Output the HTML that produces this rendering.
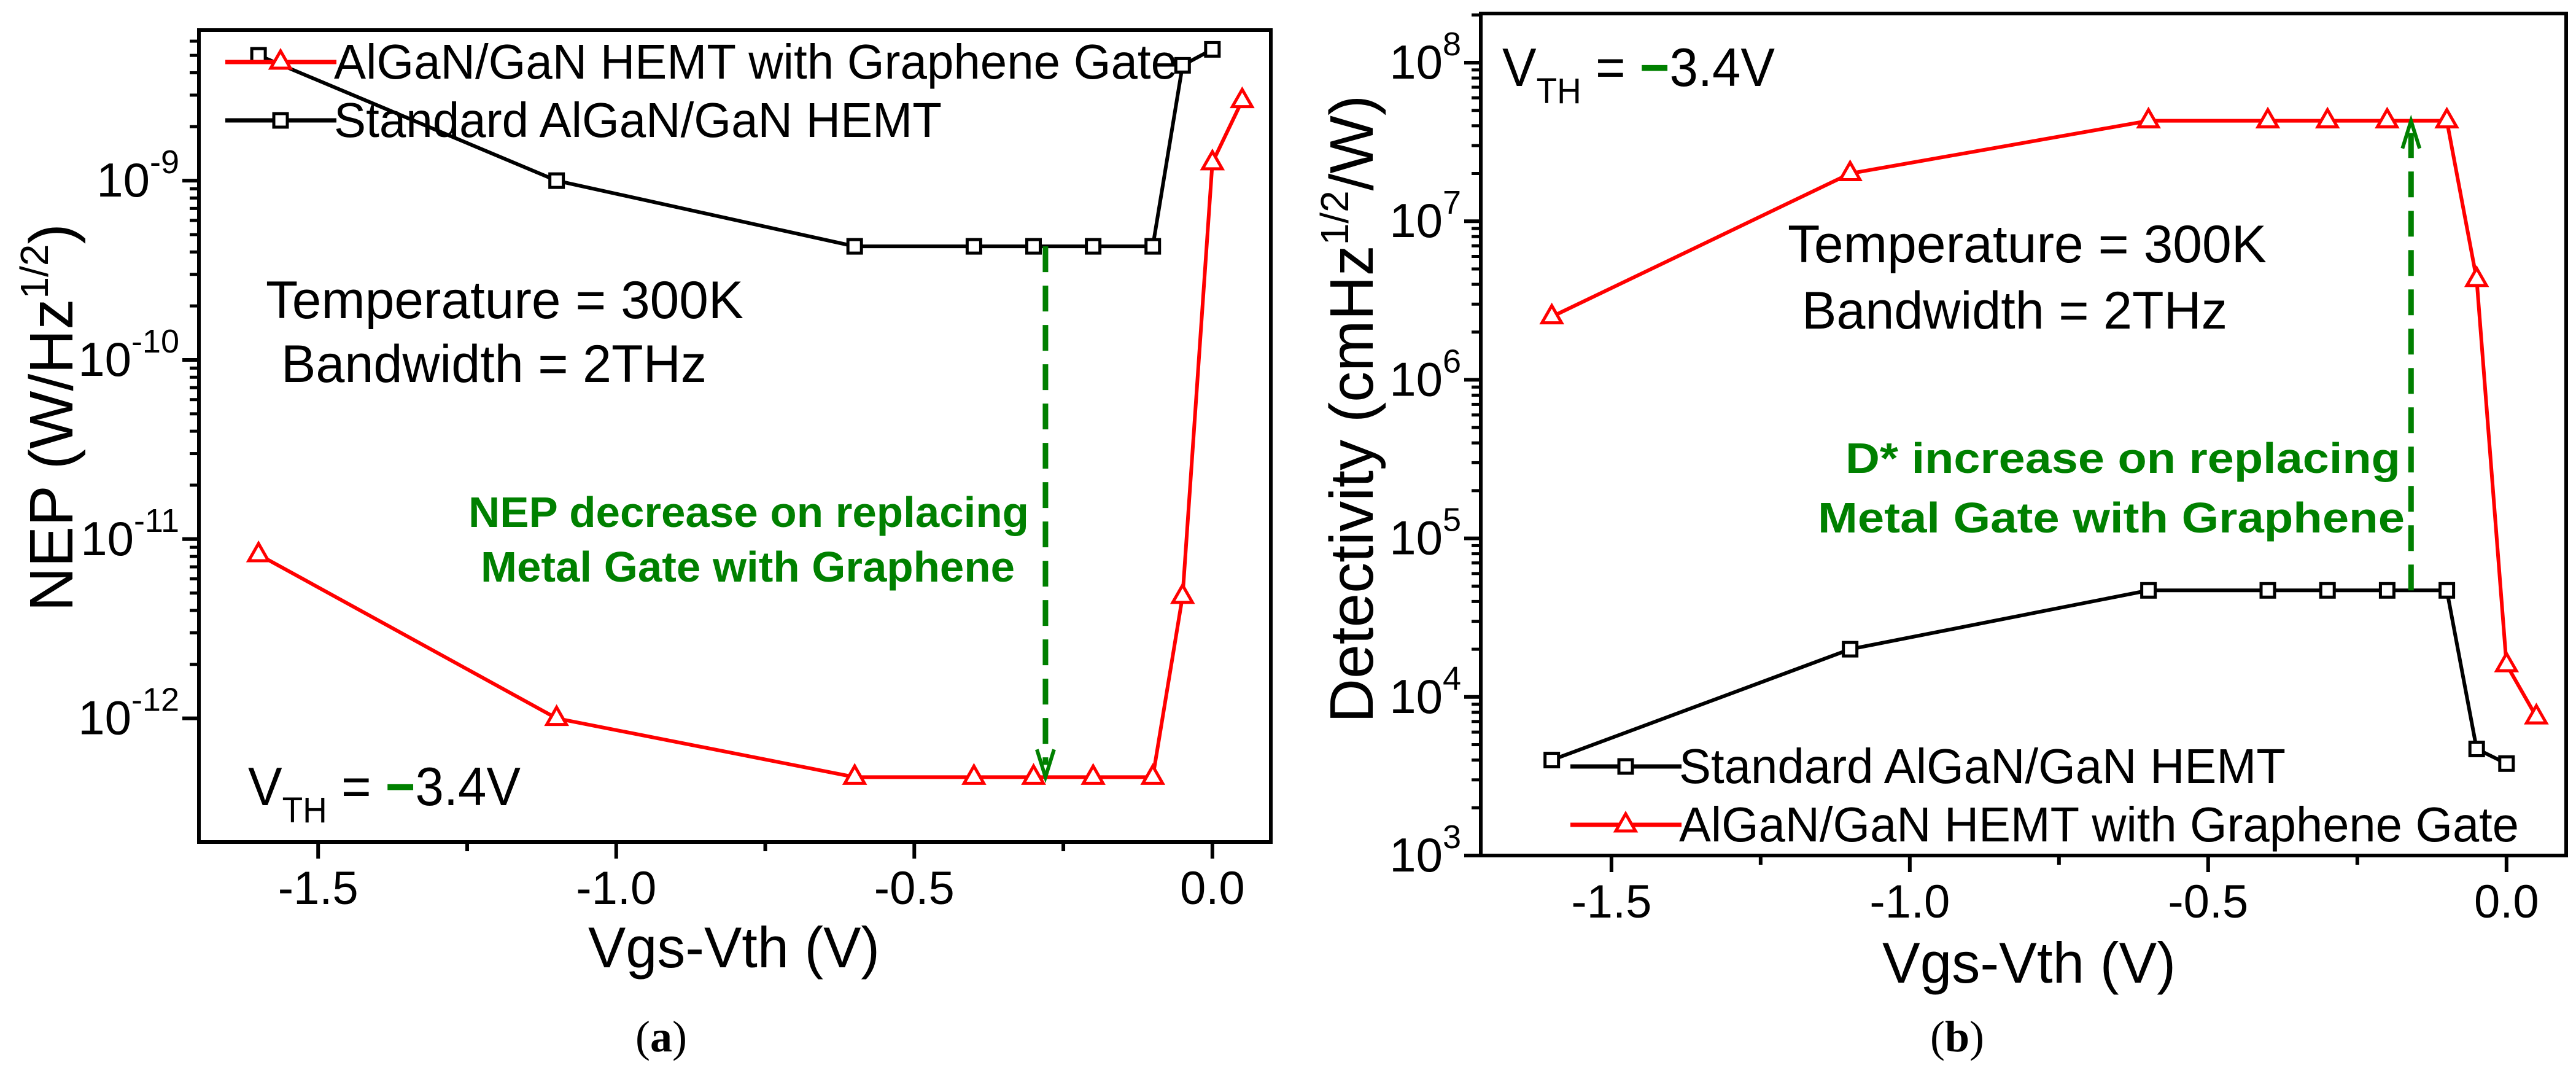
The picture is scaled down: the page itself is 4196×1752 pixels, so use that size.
<!DOCTYPE html>
<html><head><meta charset="utf-8"><style>
html,body{margin:0;padding:0;background:#fff;}
svg{display:block;font-family:"Liberation Sans",sans-serif;}
</style></head><body>
<svg id="fig" xmlns="http://www.w3.org/2000/svg" width="4196" height="1752" viewBox="0 0 4196 1752"></svg>
<script>
const xA = [-1.6,-1.1,-0.6,-0.4,-0.3,-0.2,-0.1,-0.05,0];
const nepStd = [5e-9,1e-9,4.3e-10,4.3e-10,4.3e-10,4.3e-10,4.3e-10,4.4e-9,5.4e-9];
const xGr = [-1.6,-1.1,-0.6,-0.4,-0.3,-0.2,-0.1,-0.05,0,0.05];
const nepGr = [8.2e-12,1e-12,4.7e-13,4.7e-13,4.7e-13,4.7e-13,4.7e-13,4.8e-12,1.26e-9,2.8e-9];
const detStd = [4e3,2e4,4.7e4,4.7e4,4.7e4,4.7e4,4.7e4,4.7e3,3.8e3];
const detGr = [2.5e6,2e7,4.3e7,4.3e7,4.3e7,4.3e7,4.3e7,4.3e6,1.6e4,7.5e3];
const xTicks = [-1.5,-1.0,-0.5,0.0];
const xTickLabels = ["-1.5","-1.0","-0.5","0.0"];
const nepDecades = [-12,-11,-10,-9];
const detDecades = [3,4,5,6,7,8];

const NS="http://www.w3.org/2000/svg";
const svg=document.getElementById('fig');
function el(tag,attrs,parent){const e=document.createElementNS(NS,tag);for(const k in attrs)e.setAttribute(k,attrs[k]);(parent||svg).appendChild(e);return e;}

function panel(cfg){
  const g=el('g',{});
  
  
  const X=v=>cfg.L+(v-cfg.x0)/(cfg.x1-cfg.x0)*(cfg.R-cfg.L);
  const Y=v=>cfg.B-(Math.log10(v)-cfg.y0)/(cfg.y1-cfg.y0)*(cfg.B-cfg.T);
  xTicks.forEach((t,i)=>{
    const tk=el('line',{x1:X(t),x2:X(t),y1:cfg.B,y2:cfg.B+27,stroke:'#000','stroke-width':6},g);
    
    
    const m=t+0.25;
    if(m<cfg.x1){const mt=el('line',{x1:X(m),x2:X(m),y1:cfg.B,y2:cfg.B+15,stroke:'#000','stroke-width':6},g);
      
      }
    const lb=el('text',{x:X(t),y:cfg.B+101,'font-size':76,'text-anchor':'middle'},g);
    lb.textContent=xTickLabels[i];
    
    
  });
  cfg.decades.forEach(d=>{
    const yy=Y(Math.pow(10,d));
    if(yy>=cfg.T-1&&yy<=cfg.B+1){
      const tk=el('line',{x1:cfg.L-27,x2:cfg.L,y1:yy,y2:yy,stroke:'#000','stroke-width':6},g);
      
      
      const lb=el('text',{x:cfg.L-32,y:yy+26,'font-size':78,'text-anchor':'end'},g);
      
      
      const a=el('tspan',{},lb);a.textContent='10';
      const b=el('tspan',{dy:-38,'font-size':54},lb);b.textContent=String(d);
    }
    for(let k=2;k<10;k++){
      const ym=Y(k*Math.pow(10,d));
      if(ym>cfg.T&&ym<cfg.B){const mt=el('line',{x1:cfg.L-15,x2:cfg.L,y1:ym,y2:ym,stroke:'#000','stroke-width':5},g);
        
        }
    }
  });
  const fr=el('rect',{x:cfg.L,y:cfg.T,width:cfg.R-cfg.L,height:cfg.B-cfg.T,fill:'none',stroke:'#000','stroke-width':6},g);
  
  
  function series(xs,ys,color,marker,name){
    const sg=el('g',{},g);
    
    
    el('polyline',{points:xs.map((x,i)=>X(x)+','+Y(ys[i])).join(' '),fill:'none',stroke:color,'stroke-width':6},sg);
    xs.forEach((x,i)=>drawMarker(sg,X(x),Y(ys[i]),color,marker));
  }
  series(xA,cfg.std,'#000','sq',cfg.stdName);
  series(xGr,cfg.gr,'#f00','tri',cfg.grName);
  return {g,X,Y};
}
function drawMarker(p,x,y,color,m){
  let e;
  if(m==='sq'){e=el('rect',{x:x-11,y:y-11,width:22,height:22,fill:'#fff',stroke:color,'stroke-width':5},p);}
  else{e=el('polygon',{points:`${x},${y-18} ${x-16},${y+10} ${x+16},${y+10}`,fill:'#fff',stroke:color,'stroke-width':5},p);}
  
  
  return e;
}
function text(p,x,y,str,attrs,name,len){
  const a=Object.assign({x:x,y:y},attrs);
  if(len){a.textLength=len;a.lengthAdjust='spacingAndGlyphs';}
  const t=el('text',a,p);
  t.textContent=str;
  
  
  return t;
}
function legendEntry(p,x,y,color,m,label,name,len){
  const g=el('g',{},p);
  
  
  el('line',{x1:x,x2:x+181,y1:y,y2:y,stroke:color,'stroke-width':7},g);
  drawMarker(g,x+90,y,color,m);
  const t=el('text',{x:x+177,y:y+27,'font-size':80,textLength:len,lengthAdjust:'spacingAndGlyphs'},g);t.textContent=label;
}
function vth(p,x,y,len){
  const t=el('text',{x:x,y:y,'font-size':88,textLength:len,lengthAdjust:'spacingAndGlyphs'},p);
  
  
  el('tspan',{},t).textContent='V';
  const s=el('tspan',{dy:28,'font-size':58},t);s.textContent='TH';
  const r=el('tspan',{dy:-28},t);r.textContent=' = ';
  const gm=el('tspan',{fill:'#008000','font-weight':'bold'},t);gm.textContent='\u2212';
  const r2=el('tspan',{},t);r2.textContent='3.4V';
}
function arrow(p,x,y1,y2,name){
  const g=el('g',{},p);
  
  
  const dir=y2>y1?1:-1;
  el('line',{x1:x,x2:x,y1:y1,y2:y2-dir*20,stroke:'#008000','stroke-width':9,'stroke-dasharray':'42,22'},g);
  el('polyline',{points:`${x-14},${y2-dir*45} ${x},${y2} ${x+14},${y2-dir*45}`,fill:'none',stroke:'#008000','stroke-width':6},g);
}

// Panel A
const A=panel({name:'panel-a-nep',L:324,R:2070,T:49,B:1371,x0:-1.7,x1:0.098,y0:-12.69,y1:-8.16,decades:nepDecades,std:nepStd,gr:nepGr,stdName:'series-standard-hemt-nep',grName:'series-graphene-gate-nep'});
(function(){
  const g=A.g;
  const yt=el('text',{transform:'translate(118,680) rotate(-90)','font-size':100,'text-anchor':'middle'},g);
  
  
  el('tspan',{},yt).textContent='NEP (W/Hz';
  const s=el('tspan',{dy:-40,'font-size':64},yt);s.textContent='1/2';
  const c=el('tspan',{dy:40},yt);c.textContent=')';
  text(g,958,1575,'Vgs-Vth (V)',{'font-size':94},'x-axis-title',475);
  legendEntry(g,367,101,'#f00','tri','AlGaN/GaN HEMT with Graphene Gate','legend-entry-graphene',1374);
  legendEntry(g,367,196,'#000','sq','Standard AlGaN/GaN HEMT','legend-entry-standard',990);
  text(g,433,518,'Temperature = 300K',{'font-size':86},'temperature-annotation',778);
  text(g,458,622,'Bandwidth = 2THz',{'font-size':86},'bandwidth-annotation',693);
  text(g,763,858,'NEP decrease on replacing',{'font-size':70,'font-weight':'bold',fill:'#008000'},'nep-decrease-annotation',913);
  text(g,783,947,'Metal Gate with Graphene',{'font-size':70,'font-weight':'bold',fill:'#008000'},'nep-decrease-annotation-line2',870);
  vth(g,404,1311,444);
  arrow(g,A.X(-0.28),A.Y(4.3e-10),A.Y(4.7e-13),'nep-decrease-arrow');
  const cap=el('text',{x:1077,y:1712,'font-size':72,'font-family':'Liberation Serif, serif','text-anchor':'middle'});
  
  
  el('tspan',{},cap).textContent='(';
  el('tspan',{'font-weight':'bold'},cap).textContent='a';
  el('tspan',{},cap).textContent=')';
})();

// Panel B
const B=panel({name:'panel-b-detectivity',L:2412,R:4180,T:22,B:1393,x0:-1.719,x1:0.1,y0:3,y1:8.31,decades:detDecades,std:detStd,gr:detGr,stdName:'series-standard-hemt-detectivity',grName:'series-graphene-gate-detectivity'});
(function(){
  const g=B.g;
  const yt=el('text',{transform:'translate(2236,666) rotate(-90)','font-size':100,'text-anchor':'middle'},g);
  
  
  el('tspan',{},yt).textContent='Detectivity (cmHz';
  const s=el('tspan',{dy:-40,'font-size':64},yt);s.textContent='1/2';
  const c=el('tspan',{dy:40},yt);c.textContent='/W)';
  text(g,3066,1600,'Vgs-Vth (V)',{'font-size':94},'x-axis-title',478);
  vth(g,2447,140,444);
  text(g,2912,427,'Temperature = 300K',{'font-size':86},'temperature-annotation',780);
  text(g,2935,535,'Bandwidth = 2THz',{'font-size':86},'bandwidth-annotation',693);
  text(g,3006,770,'D* increase on replacing',{'font-size':70,'font-weight':'bold',fill:'#008000'},'detectivity-increase-annotation',904);
  text(g,2961,867,'Metal Gate with Graphene',{'font-size':70,'font-weight':'bold',fill:'#008000'},'detectivity-increase-annotation-line2',956);
  arrow(g,B.X(-0.16),B.Y(4.7e4),B.Y(4.3e7),'detectivity-increase-arrow');
  legendEntry(g,2558,1248,'#000','sq','Standard AlGaN/GaN HEMT','legend-entry-standard',988);
  legendEntry(g,2558,1343,'#f00','tri','AlGaN/GaN HEMT with Graphene Gate','legend-entry-graphene',1368);
  const cap=el('text',{x:3188,y:1712,'font-size':72,'font-family':'Liberation Serif, serif','text-anchor':'middle'});
  
  
  el('tspan',{},cap).textContent='(';
  el('tspan',{'font-weight':'bold'},cap).textContent='b';
  el('tspan',{},cap).textContent=')';
})();
</script>
</body></html>
